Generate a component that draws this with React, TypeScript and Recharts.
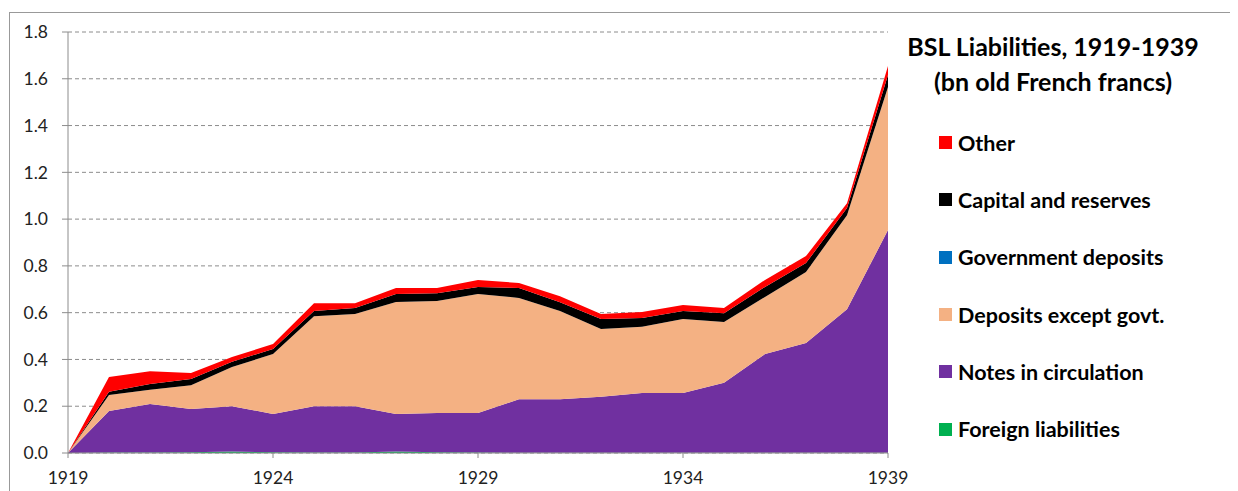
import { AreaChart, Area, XAxis, YAxis, CartesianGrid } from "recharts"

const years = [1919, 1920, 1921, 1922, 1923, 1924, 1925, 1926, 1927, 1928, 1929, 1930, 1931, 1932, 1933, 1934, 1935, 1936, 1937, 1938, 1939]

const foreign = [0, 0.002, 0.002, 0.003, 0.006, 0.003, 0.002, 0.002, 0.006, 0.003, 0.002, 0.001, 0.001, 0.001, 0.001, 0.001, 0.001, 0.001, 0.001, 0.001, 0.001]
const notes = [0, 0.178, 0.208, 0.185, 0.194, 0.164, 0.198, 0.198, 0.161, 0.168, 0.169, 0.229, 0.229, 0.239, 0.256, 0.256, 0.299, 0.422, 0.469, 0.614, 0.952]
const deposits = [0, 0.068, 0.06, 0.102, 0.168, 0.256, 0.385, 0.394, 0.479, 0.479, 0.509, 0.433, 0.377, 0.29, 0.283, 0.316, 0.26, 0.244, 0.304, 0.402, 0.612]
const government = [0, 0, 0, 0, 0, 0, 0, 0, 0, 0, 0, 0, 0, 0, 0, 0, 0, 0, 0, 0, 0]
const capital = [0, 0.014, 0.025, 0.026, 0.022, 0.022, 0.022, 0.026, 0.034, 0.033, 0.03, 0.042, 0.038, 0.043, 0.037, 0.034, 0.038, 0.043, 0.038, 0.03, 0.051]
const other = [0, 0.063, 0.055, 0.026, 0.02, 0.021, 0.033, 0.02, 0.025, 0.022, 0.03, 0.022, 0.025, 0.021, 0.026, 0.026, 0.022, 0.03, 0.03, 0.021, 0.039]

const xTicks = [1919, 1924, 1929, 1934, 1939]
const yTicks = [0, 0.2, 0.4, 0.6, 0.8, 1.0, 1.2, 1.4, 1.6, 1.8]

const data = years.map((year, i) => ({
  year,
  foreign: foreign[i],
  notes: notes[i],
  deposits: deposits[i],
  government: government[i],
  capital: capital[i],
  other: other[i],
}))

// legend order, top to bottom (stack order is the reverse)
const series = [
  { key: "other", name: "Other", color: "#ff0000" },
  { key: "capital", name: "Capital and reserves", color: "#000000" },
  { key: "government", name: "Government deposits", color: "#0070c0" },
  { key: "deposits", name: "Deposits except govt.", color: "#f4b183" },
  { key: "notes", name: "Notes in circulation", color: "#7030a0" },
  { key: "foreign", name: "Foreign liabilities", color: "#00b050" },
]

const font = "Lato, 'Open Sans', sans-serif"

const App = () => {
  return (
    <div style={{ position: "relative", width: 1230, height: 483, overflow: "hidden", fontFamily: font }}>
      <div
        style={{
          position: "absolute",
          left: 1,
          top: 4,
          right: -5,
          bottom: -5,
          borderTop: "1px solid #999",
          borderLeft: "1px solid #999",
        }}
      />
      <div
        style={{
          position: "absolute",
          left: 880,
          width: 330,
          top: 21,
          textAlign: "center",
          fontWeight: 700,
          fontSize: 25,
          lineHeight: "35px",
          color: "#000",
        }}
      >
        BSL Liabilities, 1919-1939
        <br />
        (bn old French francs)
      </div>
      <div
        style={{
          position: "absolute",
          left: 931,
          top: 106,
          width: 300,
          fontWeight: 700,
          fontSize: 21.5,
          color: "#000",
        }}
      >
        {series.map((s) => (
          <div key={s.key} style={{ display: "flex", alignItems: "center", height: 57.3 }}>
            <span style={{ width: 13, height: 13, background: s.color, marginRight: 6, display: "inline-block" }} />
            <span>{s.name}</span>
          </div>
        ))}
      </div>
      <AreaChart
        width={1230}
        height={483}
        data={data}
        margin={{ top: 24, right: 350, left: 0, bottom: 0 }}
        style={{ position: "absolute", left: 0, top: 0 }}
      >
        <CartesianGrid vertical={false} stroke="#8c8c8c" strokeDasharray="4 3" />
        <XAxis
          dataKey="year"
          type="number"
          domain={[1919, 1939]}
          ticks={xTicks}
          height={38}
          stroke="#8c8c8c"
          tickSize={5}
          tickMargin={14}
          tick={{ fill: "#222", fontSize: 17.5 }}
          interval={0}
        />
        <YAxis
          domain={[0, 1.8]}
          ticks={yTicks}
          width={60}
          stroke="#8c8c8c"
          tickSize={6}
          tickMargin={14}
          tick={{ fill: "#222", fontSize: 17.5 }}
          tickFormatter={(v: number) => v.toFixed(1)}
          interval={0}
        />
        {[...series].reverse().map((s) => (
          <Area
            key={s.key}
            type="linear"
            dataKey={s.key}
            name={s.name}
            stackId="1"
            stroke="none"
            fill={s.color}
            fillOpacity={1}
            isAnimationActive={false}
          />
        ))}
      </AreaChart>
    </div>
  )
}

export default App
